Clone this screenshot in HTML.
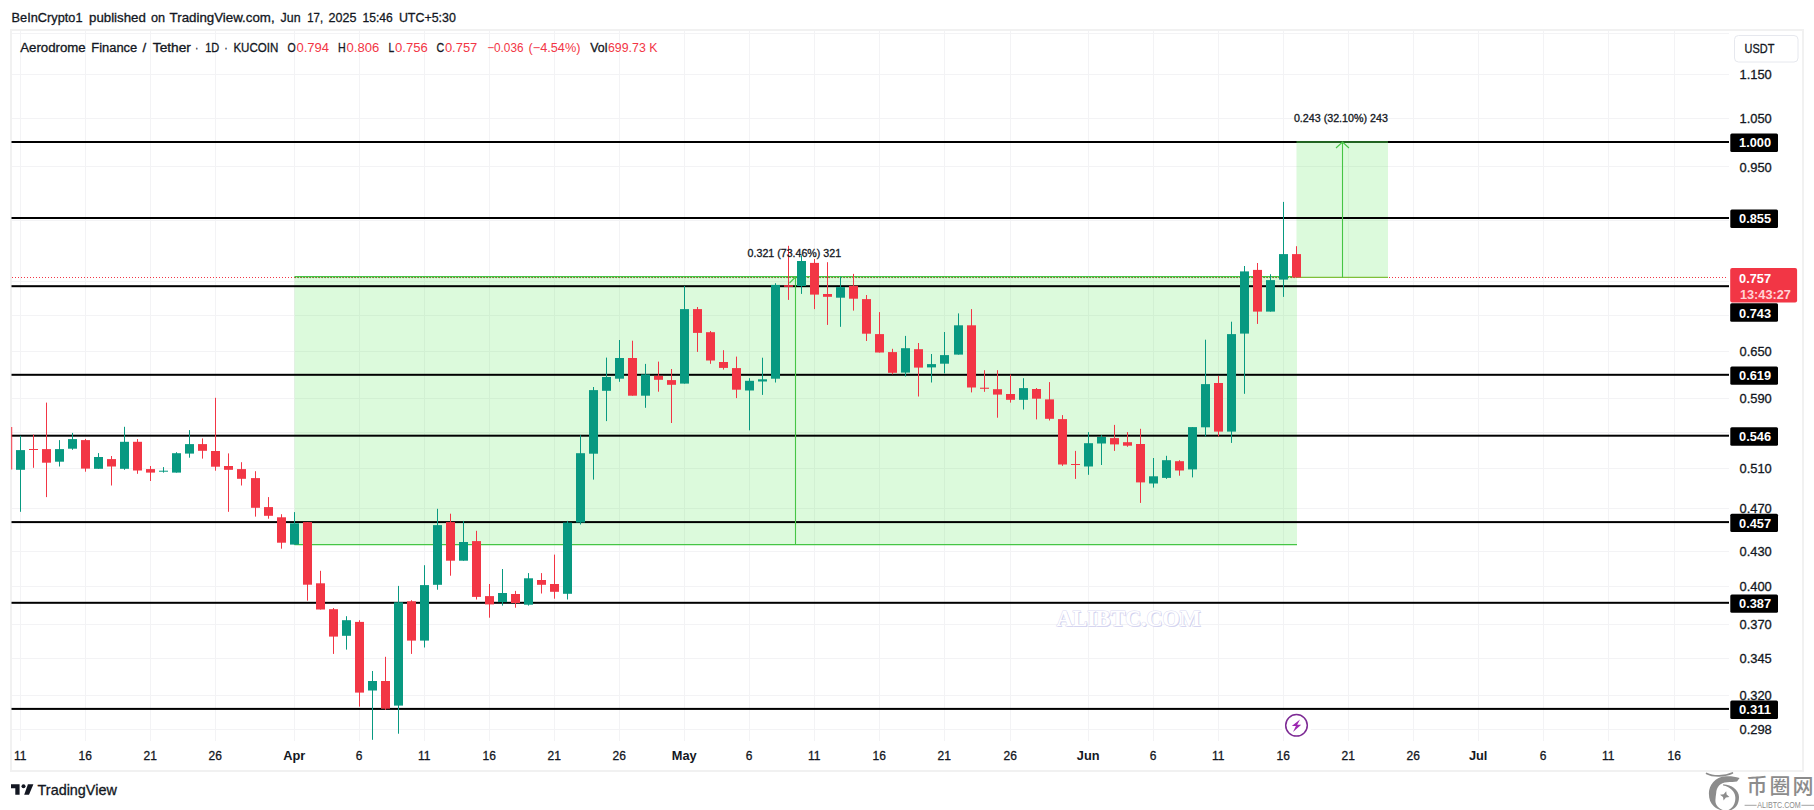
<!DOCTYPE html>
<html lang="en"><head><meta charset="utf-8"><title>AERO/USDT chart</title>
<style>html,body{margin:0;padding:0;background:#fff;overflow:hidden}body{width:1814px;height:810px}</style></head>
<body>
<svg width="1814" height="810" viewBox="0 0 1814 810" style="display:block">
<rect width="1814" height="810" fill="#ffffff"/>
<g font-family="Liberation Sans, sans-serif">
<line x1="12" x2="1729" y1="33.5" y2="33.5" stroke="#f3f3f5" stroke-width="1"/>
<line x1="12" x2="1729" y1="74.5" y2="74.5" stroke="#f3f3f5" stroke-width="1"/>
<line x1="12" x2="1729" y1="118.5" y2="118.5" stroke="#f3f3f5" stroke-width="1"/>
<line x1="12" x2="1729" y1="166.5" y2="166.5" stroke="#f3f3f5" stroke-width="1"/>
<line x1="12" x2="1729" y1="220.5" y2="220.5" stroke="#f3f3f5" stroke-width="1"/>
<line x1="12" x2="1729" y1="281.5" y2="281.5" stroke="#f3f3f5" stroke-width="1"/>
<line x1="12" x2="1729" y1="315.5" y2="315.5" stroke="#f3f3f5" stroke-width="1"/>
<line x1="12" x2="1729" y1="351.5" y2="351.5" stroke="#f3f3f5" stroke-width="1"/>
<line x1="12" x2="1729" y1="398.5" y2="398.5" stroke="#f3f3f5" stroke-width="1"/>
<line x1="12" x2="1729" y1="432.5" y2="432.5" stroke="#f3f3f5" stroke-width="1"/>
<line x1="12" x2="1729" y1="468.5" y2="468.5" stroke="#f3f3f5" stroke-width="1"/>
<line x1="12" x2="1729" y1="508.5" y2="508.5" stroke="#f3f3f5" stroke-width="1"/>
<line x1="12" x2="1729" y1="551.5" y2="551.5" stroke="#f3f3f5" stroke-width="1"/>
<line x1="12" x2="1729" y1="586.5" y2="586.5" stroke="#f3f3f5" stroke-width="1"/>
<line x1="12" x2="1729" y1="624.5" y2="624.5" stroke="#f3f3f5" stroke-width="1"/>
<line x1="12" x2="1729" y1="658.5" y2="658.5" stroke="#f3f3f5" stroke-width="1"/>
<line x1="12" x2="1729" y1="695.5" y2="695.5" stroke="#f3f3f5" stroke-width="1"/>
<line x1="12" x2="1729" y1="729.5" y2="729.5" stroke="#f3f3f5" stroke-width="1"/>
<line x1="20.5" x2="20.5" y1="31" y2="741" stroke="#f3f3f5" stroke-width="1"/>
<line x1="85.5" x2="85.5" y1="31" y2="741" stroke="#f3f3f5" stroke-width="1"/>
<line x1="150.5" x2="150.5" y1="31" y2="741" stroke="#f3f3f5" stroke-width="1"/>
<line x1="215.5" x2="215.5" y1="31" y2="741" stroke="#f3f3f5" stroke-width="1"/>
<line x1="294.5" x2="294.5" y1="31" y2="741" stroke="#f3f3f5" stroke-width="1"/>
<line x1="359.5" x2="359.5" y1="31" y2="741" stroke="#f3f3f5" stroke-width="1"/>
<line x1="424.5" x2="424.5" y1="31" y2="741" stroke="#f3f3f5" stroke-width="1"/>
<line x1="489.5" x2="489.5" y1="31" y2="741" stroke="#f3f3f5" stroke-width="1"/>
<line x1="554.5" x2="554.5" y1="31" y2="741" stroke="#f3f3f5" stroke-width="1"/>
<line x1="619.5" x2="619.5" y1="31" y2="741" stroke="#f3f3f5" stroke-width="1"/>
<line x1="684.5" x2="684.5" y1="31" y2="741" stroke="#f3f3f5" stroke-width="1"/>
<line x1="749.5" x2="749.5" y1="31" y2="741" stroke="#f3f3f5" stroke-width="1"/>
<line x1="814.5" x2="814.5" y1="31" y2="741" stroke="#f3f3f5" stroke-width="1"/>
<line x1="879.5" x2="879.5" y1="31" y2="741" stroke="#f3f3f5" stroke-width="1"/>
<line x1="944.5" x2="944.5" y1="31" y2="741" stroke="#f3f3f5" stroke-width="1"/>
<line x1="1010.5" x2="1010.5" y1="31" y2="741" stroke="#f3f3f5" stroke-width="1"/>
<line x1="1088.5" x2="1088.5" y1="31" y2="741" stroke="#f3f3f5" stroke-width="1"/>
<line x1="1153.5" x2="1153.5" y1="31" y2="741" stroke="#f3f3f5" stroke-width="1"/>
<line x1="1218.5" x2="1218.5" y1="31" y2="741" stroke="#f3f3f5" stroke-width="1"/>
<line x1="1283.5" x2="1283.5" y1="31" y2="741" stroke="#f3f3f5" stroke-width="1"/>
<line x1="1348.5" x2="1348.5" y1="31" y2="741" stroke="#f3f3f5" stroke-width="1"/>
<line x1="1413.5" x2="1413.5" y1="31" y2="741" stroke="#f3f3f5" stroke-width="1"/>
<line x1="1478.5" x2="1478.5" y1="31" y2="741" stroke="#f3f3f5" stroke-width="1"/>
<line x1="1543.5" x2="1543.5" y1="31" y2="741" stroke="#f3f3f5" stroke-width="1"/>
<line x1="1608.5" x2="1608.5" y1="31" y2="741" stroke="#f3f3f5" stroke-width="1"/>
<line x1="1674.5" x2="1674.5" y1="31" y2="741" stroke="#f3f3f5" stroke-width="1"/>
<rect x="11" y="30" width="1792" height="741" fill="none" stroke="#f1f1f1" stroke-width="2"/>
<line x1="12" x2="1728" y1="277.5" y2="277.5" stroke="#F23645" stroke-width="1" stroke-dasharray="1 2"/>
<rect x="294.5" y="276.2" width="1002.5" height="268.40000000000003" fill="rgba(60,225,60,0.18)"/>
<rect x="1296.5" y="142" width="91.5" height="135.5" fill="rgba(60,225,60,0.18)"/>
<rect x="11.5" y="141.0" width="1717.5" height="2" fill="#000"/>
<rect x="11.5" y="217.0" width="1717.5" height="2" fill="#000"/>
<rect x="11.5" y="285.2" width="1717.5" height="2" fill="#000"/>
<rect x="11.5" y="373.8" width="1717.5" height="2" fill="#000"/>
<rect x="11.5" y="434.7" width="1717.5" height="2" fill="#000"/>
<rect x="11.5" y="521.1" width="1717.5" height="2" fill="#000"/>
<rect x="11.5" y="601.8" width="1717.5" height="2" fill="#000"/>
<rect x="11.5" y="707.9" width="1717.5" height="2" fill="#000"/>
<line x1="294.5" x2="1297" y1="276.6" y2="276.6" stroke="#45c545" stroke-width="1.1"/>
<line x1="295.0" x2="1297" y1="277.6" y2="277.6" stroke="#4f8f2a" stroke-width="1" stroke-dasharray="1 2"/>
<line x1="294.5" x2="1297" y1="544.6" y2="544.6" stroke="#45c545" stroke-width="1.1"/>
<line x1="795.5" x2="795.5" y1="276.2" y2="544.6" stroke="#45c545" stroke-width="1.1"/>
<path d="M789.5 283 L795.5 277 " stroke="#45c545" stroke-width="1.1" fill="none"/>
<line x1="1296.5" x2="1388" y1="277.4" y2="277.4" stroke="#7fbf3a" stroke-width="1.1"/>
<line x1="1296.5" x2="1388" y1="142" y2="142" stroke="#45c545" stroke-width="1"/>
<line x1="1342.5" x2="1342.5" y1="142" y2="277.5" stroke="#45c545" stroke-width="1.1"/>
<path d="M1336 148 L1342.5 142 L1349 148" stroke="#45c545" stroke-width="1.1" fill="none"/>
<rect x="11.2" y="427" width="1" height="42.5" fill="#F23645"/>
<rect x="20" y="435.8" width="1" height="76.0" fill="#089981"/>
<rect x="16" y="450.1" width="9" height="19.7" fill="#089981"/>
<rect x="33" y="434.6" width="1" height="33.2" fill="#F23645"/>
<rect x="29" y="449.0" width="9" height="1.0" fill="#F23645"/>
<rect x="46" y="402.6" width="1" height="94.5" fill="#F23645"/>
<rect x="42" y="449.1" width="9" height="13.6" fill="#F23645"/>
<rect x="59" y="440.1" width="1" height="26.4" fill="#089981"/>
<rect x="55" y="449.1" width="9" height="12.6" fill="#089981"/>
<rect x="72" y="432.9" width="1" height="16.9" fill="#089981"/>
<rect x="68" y="439.1" width="9" height="9.6" fill="#089981"/>
<rect x="85" y="438.9" width="1" height="32.8" fill="#F23645"/>
<rect x="81" y="440.1" width="9" height="28.5" fill="#F23645"/>
<rect x="98" y="453.1" width="1" height="15.7" fill="#089981"/>
<rect x="94" y="457.0" width="9" height="11.8" fill="#089981"/>
<rect x="111" y="456.0" width="1" height="29.5" fill="#F23645"/>
<rect x="107" y="459.1" width="9" height="7.4" fill="#F23645"/>
<rect x="124" y="426.8" width="1" height="43.0" fill="#089981"/>
<rect x="120" y="441.8" width="9" height="27.0" fill="#089981"/>
<rect x="137" y="439.1" width="1" height="34.7" fill="#F23645"/>
<rect x="133" y="441.8" width="9" height="28.7" fill="#F23645"/>
<rect x="150" y="466.0" width="1" height="15.0" fill="#F23645"/>
<rect x="146" y="469.1" width="9" height="3.5" fill="#F23645"/>
<rect x="163" y="467.1" width="1" height="5.5" fill="#089981"/>
<rect x="159" y="470.7" width="9" height="1.0" fill="#089981"/>
<rect x="176" y="452.2" width="1" height="20.4" fill="#089981"/>
<rect x="172" y="453.2" width="9" height="19.4" fill="#089981"/>
<rect x="189" y="430.1" width="1" height="27.6" fill="#089981"/>
<rect x="185" y="444.1" width="9" height="9.5" fill="#089981"/>
<rect x="202" y="438.4" width="1" height="20.2" fill="#F23645"/>
<rect x="198" y="444.1" width="9" height="6.7" fill="#F23645"/>
<rect x="215" y="397.8" width="1" height="72.9" fill="#F23645"/>
<rect x="211" y="451.0" width="9" height="15.7" fill="#F23645"/>
<rect x="228" y="453.4" width="1" height="58.4" fill="#F23645"/>
<rect x="224" y="466.0" width="9" height="3.8" fill="#F23645"/>
<rect x="241" y="462.2" width="1" height="23.3" fill="#F23645"/>
<rect x="237" y="469.1" width="9" height="9.7" fill="#F23645"/>
<rect x="255" y="471.2" width="1" height="45.4" fill="#F23645"/>
<rect x="251" y="478.1" width="9" height="29.7" fill="#F23645"/>
<rect x="268" y="497.1" width="1" height="21.6" fill="#F23645"/>
<rect x="264" y="507.1" width="9" height="8.7" fill="#F23645"/>
<rect x="281" y="514.2" width="1" height="34.5" fill="#F23645"/>
<rect x="277" y="517.3" width="9" height="25.4" fill="#F23645"/>
<rect x="294" y="512.1" width="1" height="32.5" fill="#089981"/>
<rect x="290" y="523.3" width="9" height="21.3" fill="#089981"/>
<rect x="307" y="522.1" width="1" height="78.6" fill="#F23645"/>
<rect x="303" y="522.1" width="9" height="62.6" fill="#F23645"/>
<rect x="320" y="570.8" width="1" height="38.7" fill="#F23645"/>
<rect x="316" y="583.3" width="9" height="26.2" fill="#F23645"/>
<rect x="333" y="608.0" width="1" height="45.9" fill="#F23645"/>
<rect x="329" y="609.2" width="9" height="27.4" fill="#F23645"/>
<rect x="346" y="616.2" width="1" height="33.4" fill="#089981"/>
<rect x="342" y="620.2" width="9" height="15.6" fill="#089981"/>
<rect x="359" y="620.2" width="1" height="86.4" fill="#F23645"/>
<rect x="355" y="621.9" width="9" height="70.7" fill="#F23645"/>
<rect x="372" y="671.0" width="1" height="68.8" fill="#089981"/>
<rect x="368" y="681.0" width="9" height="9.5" fill="#089981"/>
<rect x="385" y="656.8" width="1" height="53.2" fill="#F23645"/>
<rect x="381" y="681.0" width="9" height="27.7" fill="#F23645"/>
<rect x="398" y="585.9" width="1" height="147.8" fill="#089981"/>
<rect x="394" y="602.3" width="9" height="103.3" fill="#089981"/>
<rect x="411" y="600.2" width="1" height="53.7" fill="#F23645"/>
<rect x="407" y="601.3" width="9" height="39.3" fill="#F23645"/>
<rect x="424" y="565.2" width="1" height="82.3" fill="#089981"/>
<rect x="420" y="585.1" width="9" height="55.5" fill="#089981"/>
<rect x="437" y="508.8" width="1" height="80.9" fill="#089981"/>
<rect x="433" y="525.1" width="9" height="59.7" fill="#089981"/>
<rect x="450" y="513.7" width="1" height="62.0" fill="#F23645"/>
<rect x="446" y="522.1" width="9" height="38.6" fill="#F23645"/>
<rect x="463" y="520.9" width="1" height="39.8" fill="#089981"/>
<rect x="459" y="542.0" width="9" height="18.7" fill="#089981"/>
<rect x="476" y="530.8" width="1" height="68.7" fill="#F23645"/>
<rect x="472" y="541.1" width="9" height="55.8" fill="#F23645"/>
<rect x="489" y="584.0" width="1" height="33.7" fill="#F23645"/>
<rect x="485" y="596.1" width="9" height="8.3" fill="#F23645"/>
<rect x="502" y="569.0" width="1" height="36.6" fill="#089981"/>
<rect x="498" y="593.0" width="9" height="9.1" fill="#089981"/>
<rect x="515" y="590.9" width="1" height="16.8" fill="#F23645"/>
<rect x="511" y="594.0" width="9" height="9.0" fill="#F23645"/>
<rect x="528" y="573.1" width="1" height="32.5" fill="#089981"/>
<rect x="524" y="578.3" width="9" height="26.4" fill="#089981"/>
<rect x="541" y="573.1" width="1" height="20.4" fill="#F23645"/>
<rect x="537" y="580.0" width="9" height="4.8" fill="#F23645"/>
<rect x="554" y="554.6" width="1" height="44.1" fill="#F23645"/>
<rect x="550" y="584.0" width="9" height="7.8" fill="#F23645"/>
<rect x="567" y="520.9" width="1" height="78.6" fill="#089981"/>
<rect x="563" y="522.6" width="9" height="71.2" fill="#089981"/>
<rect x="580" y="435.2" width="1" height="89.3" fill="#089981"/>
<rect x="576" y="453.2" width="9" height="69.3" fill="#089981"/>
<rect x="593" y="387.0" width="1" height="92.6" fill="#089981"/>
<rect x="589" y="390.1" width="9" height="63.6" fill="#089981"/>
<rect x="606" y="357.6" width="1" height="63.5" fill="#089981"/>
<rect x="602" y="377.0" width="9" height="13.8" fill="#089981"/>
<rect x="619" y="340.0" width="1" height="41.8" fill="#089981"/>
<rect x="615" y="358.0" width="9" height="20.7" fill="#089981"/>
<rect x="632" y="340.7" width="1" height="55.0" fill="#F23645"/>
<rect x="628" y="358.0" width="9" height="37.7" fill="#F23645"/>
<rect x="645" y="363.9" width="1" height="43.9" fill="#089981"/>
<rect x="641" y="374.4" width="9" height="21.3" fill="#089981"/>
<rect x="658" y="361.6" width="1" height="30.1" fill="#F23645"/>
<rect x="654" y="375.8" width="9" height="4.0" fill="#F23645"/>
<rect x="671" y="369.0" width="1" height="54.0" fill="#F23645"/>
<rect x="667" y="380.1" width="9" height="4.7" fill="#F23645"/>
<rect x="684" y="286.0" width="1" height="97.6" fill="#089981"/>
<rect x="680" y="309.1" width="9" height="74.5" fill="#089981"/>
<rect x="697" y="307.0" width="1" height="44.9" fill="#F23645"/>
<rect x="693" y="309.1" width="9" height="23.8" fill="#F23645"/>
<rect x="710" y="331.0" width="1" height="32.8" fill="#F23645"/>
<rect x="706" y="332.2" width="9" height="28.3" fill="#F23645"/>
<rect x="723" y="350.2" width="1" height="19.4" fill="#F23645"/>
<rect x="719" y="362.0" width="9" height="5.9" fill="#F23645"/>
<rect x="736" y="356.6" width="1" height="41.5" fill="#F23645"/>
<rect x="732" y="368.1" width="9" height="21.6" fill="#F23645"/>
<rect x="749" y="378.2" width="1" height="52.1" fill="#089981"/>
<rect x="745" y="380.8" width="9" height="9.7" fill="#089981"/>
<rect x="762" y="357.7" width="1" height="37.2" fill="#089981"/>
<rect x="758" y="379.3" width="9" height="2.2" fill="#089981"/>
<rect x="775" y="283.2" width="1" height="99.3" fill="#089981"/>
<rect x="771" y="284.9" width="9" height="93.8" fill="#089981"/>
<rect x="788" y="245.8" width="1" height="54.1" fill="#F23645"/>
<rect x="784" y="285.2" width="9" height="1.6" fill="#F23645"/>
<rect x="801" y="255.4" width="1" height="38.5" fill="#089981"/>
<rect x="797" y="261.0" width="9" height="25.0" fill="#089981"/>
<rect x="814" y="259.0" width="1" height="50.1" fill="#F23645"/>
<rect x="810" y="262.9" width="9" height="31.7" fill="#F23645"/>
<rect x="827" y="262.2" width="1" height="62.7" fill="#F23645"/>
<rect x="823" y="294.0" width="9" height="2.8" fill="#F23645"/>
<rect x="840" y="276.7" width="1" height="50.1" fill="#089981"/>
<rect x="836" y="287.1" width="9" height="10.6" fill="#089981"/>
<rect x="853" y="273.9" width="1" height="36.7" fill="#F23645"/>
<rect x="849" y="285.8" width="9" height="12.9" fill="#F23645"/>
<rect x="866" y="295.0" width="1" height="46.0" fill="#F23645"/>
<rect x="862" y="299.1" width="9" height="34.6" fill="#F23645"/>
<rect x="879" y="312.1" width="1" height="40.4" fill="#F23645"/>
<rect x="875" y="334.1" width="9" height="18.4" fill="#F23645"/>
<rect x="892" y="348.8" width="1" height="25.5" fill="#F23645"/>
<rect x="888" y="352.1" width="9" height="20.7" fill="#F23645"/>
<rect x="905" y="335.9" width="1" height="40.6" fill="#089981"/>
<rect x="901" y="348.2" width="9" height="24.4" fill="#089981"/>
<rect x="918" y="343.0" width="1" height="53.5" fill="#F23645"/>
<rect x="914" y="349.2" width="9" height="18.4" fill="#F23645"/>
<rect x="931" y="354.0" width="1" height="28.5" fill="#089981"/>
<rect x="927" y="364.1" width="9" height="3.3" fill="#089981"/>
<rect x="944" y="332.0" width="1" height="41.4" fill="#089981"/>
<rect x="940" y="355.1" width="9" height="8.6" fill="#089981"/>
<rect x="958" y="313.4" width="1" height="41.2" fill="#089981"/>
<rect x="954" y="325.3" width="9" height="29.3" fill="#089981"/>
<rect x="971" y="309.1" width="1" height="83.3" fill="#F23645"/>
<rect x="967" y="325.3" width="9" height="62.2" fill="#F23645"/>
<rect x="984" y="370.2" width="1" height="21.6" fill="#F23645"/>
<rect x="980" y="387.7" width="9" height="1.1" fill="#F23645"/>
<rect x="997" y="370.2" width="1" height="47.5" fill="#F23645"/>
<rect x="993" y="389.2" width="9" height="5.4" fill="#F23645"/>
<rect x="1010" y="374.5" width="1" height="28.1" fill="#F23645"/>
<rect x="1006" y="394.0" width="9" height="5.8" fill="#F23645"/>
<rect x="1023" y="378.2" width="1" height="31.3" fill="#089981"/>
<rect x="1019" y="388.1" width="9" height="11.7" fill="#089981"/>
<rect x="1036" y="388.0" width="1" height="31.4" fill="#F23645"/>
<rect x="1032" y="389.0" width="9" height="9.7" fill="#F23645"/>
<rect x="1049" y="382.1" width="1" height="38.4" fill="#F23645"/>
<rect x="1045" y="399.4" width="9" height="19.4" fill="#F23645"/>
<rect x="1062" y="415.1" width="1" height="50.8" fill="#F23645"/>
<rect x="1058" y="419.1" width="9" height="45.4" fill="#F23645"/>
<rect x="1075" y="450.9" width="1" height="28.0" fill="#F23645"/>
<rect x="1071" y="464.0" width="9" height="1.0" fill="#F23645"/>
<rect x="1088" y="432.1" width="1" height="42.7" fill="#089981"/>
<rect x="1084" y="443.2" width="9" height="23.3" fill="#089981"/>
<rect x="1101" y="435.2" width="1" height="29.8" fill="#089981"/>
<rect x="1097" y="437.0" width="9" height="6.5" fill="#089981"/>
<rect x="1114" y="424.9" width="1" height="26.0" fill="#F23645"/>
<rect x="1110" y="438.1" width="9" height="6.3" fill="#F23645"/>
<rect x="1127" y="432.1" width="1" height="14.7" fill="#F23645"/>
<rect x="1123" y="442.2" width="9" height="3.5" fill="#F23645"/>
<rect x="1140" y="428.8" width="1" height="74.1" fill="#F23645"/>
<rect x="1136" y="444.0" width="9" height="38.4" fill="#F23645"/>
<rect x="1153" y="458.0" width="1" height="29.6" fill="#089981"/>
<rect x="1149" y="476.3" width="9" height="7.2" fill="#089981"/>
<rect x="1166" y="455.8" width="1" height="23.1" fill="#089981"/>
<rect x="1162" y="460.2" width="9" height="17.7" fill="#089981"/>
<rect x="1179" y="460.2" width="1" height="15.5" fill="#F23645"/>
<rect x="1175" y="461.2" width="9" height="9.3" fill="#F23645"/>
<rect x="1192" y="427.1" width="1" height="50.3" fill="#089981"/>
<rect x="1188" y="427.1" width="9" height="42.3" fill="#089981"/>
<rect x="1205" y="339.7" width="1" height="96.7" fill="#089981"/>
<rect x="1201" y="384.1" width="9" height="43.2" fill="#089981"/>
<rect x="1218" y="375.9" width="1" height="60.5" fill="#F23645"/>
<rect x="1214" y="383.0" width="9" height="48.6" fill="#F23645"/>
<rect x="1231" y="321.7" width="1" height="121.2" fill="#089981"/>
<rect x="1227" y="334.1" width="9" height="97.5" fill="#089981"/>
<rect x="1244" y="266.0" width="1" height="127.8" fill="#089981"/>
<rect x="1240" y="271.4" width="9" height="62.2" fill="#089981"/>
<rect x="1257" y="263.0" width="1" height="60.9" fill="#F23645"/>
<rect x="1253" y="269.9" width="9" height="41.7" fill="#F23645"/>
<rect x="1270" y="274.2" width="1" height="37.4" fill="#089981"/>
<rect x="1266" y="280.1" width="9" height="31.5" fill="#089981"/>
<rect x="1283" y="201.9" width="1" height="95.0" fill="#089981"/>
<rect x="1279" y="254.1" width="9" height="25.5" fill="#089981"/>
<rect x="1296" y="246.2" width="1" height="31.3" fill="#F23645"/>
<rect x="1292" y="254.1" width="9" height="23.4" fill="#F23645"/>
<text x="747.6" y="256.6" font-size="10.5" fill="#131722" textLength="93.5" lengthAdjust="spacingAndGlyphs" stroke="#131722" stroke-width="0.3">0.321 (73.46%) 321</text>
<text x="1293.9" y="121.8" font-size="10.5" fill="#131722" textLength="94.0" lengthAdjust="spacingAndGlyphs" stroke="#131722" stroke-width="0.3">0.243 (32.10%) 243</text>
<text x="1057.5" y="627.0" font-size="22.5" fill="#cfcfee" font-weight="bold" textLength="144.0" lengthAdjust="spacingAndGlyphs" font-family="Liberation Serif, serif" >ALIBTC.COM</text>
<text x="1056.5" y="626.0" font-size="22.5" fill="#ffffff" font-weight="bold" textLength="144.0" lengthAdjust="spacingAndGlyphs" font-family="Liberation Serif, serif" stroke="#dadaf2" stroke-width="1" paint-order="stroke">ALIBTC.COM</text>
<circle cx="1296.5" cy="725.3" r="15" fill="#fff"/>
<circle cx="1296.5" cy="725.3" r="10.8" fill="#fff" stroke="#7d2b94" stroke-width="1.5"/>
<path d="M1300 719.4 L1291.8 726 L1295.9 726 L1293 731.9 L1301.2 724.8 L1297.2 724.8 Z" fill="#9c27b0"/>
<rect x="1729" y="31" width="73" height="739" fill="#fff"/>
<text x="1739.5" y="78.8" font-size="12.8" fill="#131722" textLength="32.3" lengthAdjust="spacingAndGlyphs" stroke="#131722" stroke-width="0.3">1.150</text>
<text x="1739.5" y="122.9" font-size="12.8" fill="#131722" textLength="32.3" lengthAdjust="spacingAndGlyphs" stroke="#131722" stroke-width="0.3">1.050</text>
<text x="1739.5" y="171.5" font-size="12.8" fill="#131722" textLength="32.3" lengthAdjust="spacingAndGlyphs" stroke="#131722" stroke-width="0.3">0.950</text>
<text x="1739.5" y="355.7" font-size="12.8" fill="#131722" textLength="32.3" lengthAdjust="spacingAndGlyphs" stroke="#131722" stroke-width="0.3">0.650</text>
<text x="1739.5" y="402.7" font-size="12.8" fill="#131722" textLength="32.3" lengthAdjust="spacingAndGlyphs" stroke="#131722" stroke-width="0.3">0.590</text>
<text x="1739.5" y="473.4" font-size="12.8" fill="#131722" textLength="32.3" lengthAdjust="spacingAndGlyphs" stroke="#131722" stroke-width="0.3">0.510</text>
<text x="1739.5" y="513.1" font-size="12.8" fill="#131722" textLength="32.3" lengthAdjust="spacingAndGlyphs" stroke="#131722" stroke-width="0.3">0.470</text>
<text x="1739.5" y="556.3" font-size="12.8" fill="#131722" textLength="32.3" lengthAdjust="spacingAndGlyphs" stroke="#131722" stroke-width="0.3">0.430</text>
<text x="1739.5" y="591.4" font-size="12.8" fill="#131722" textLength="32.3" lengthAdjust="spacingAndGlyphs" stroke="#131722" stroke-width="0.3">0.400</text>
<text x="1739.5" y="629.2" font-size="12.8" fill="#131722" textLength="32.3" lengthAdjust="spacingAndGlyphs" stroke="#131722" stroke-width="0.3">0.370</text>
<text x="1739.5" y="663.2" font-size="12.8" fill="#131722" textLength="32.3" lengthAdjust="spacingAndGlyphs" stroke="#131722" stroke-width="0.3">0.345</text>
<text x="1739.5" y="699.7" font-size="12.8" fill="#131722" textLength="32.3" lengthAdjust="spacingAndGlyphs" stroke="#131722" stroke-width="0.3">0.320</text>
<text x="1739.5" y="734.3" font-size="12.8" fill="#131722" textLength="32.3" lengthAdjust="spacingAndGlyphs" stroke="#131722" stroke-width="0.3">0.298</text>
<rect x="1730.3" y="133.6" width="47.7" height="18.4" rx="1.5" fill="#000"/>
<text x="1739.1" y="147.4" font-size="12.5" fill="#ffffff" font-weight="bold" textLength="32.0" lengthAdjust="spacingAndGlyphs" >1.000</text>
<rect x="1730.3" y="209.6" width="47.7" height="18.4" rx="1.5" fill="#000"/>
<text x="1739.1" y="223.4" font-size="12.5" fill="#ffffff" font-weight="bold" textLength="32.0" lengthAdjust="spacingAndGlyphs" >0.855</text>
<rect x="1730.3" y="366.4" width="47.7" height="18.4" rx="1.5" fill="#000"/>
<text x="1739.1" y="380.2" font-size="12.5" fill="#ffffff" font-weight="bold" textLength="32.0" lengthAdjust="spacingAndGlyphs" >0.619</text>
<rect x="1730.3" y="427.3" width="47.7" height="18.4" rx="1.5" fill="#000"/>
<text x="1739.1" y="441.1" font-size="12.5" fill="#ffffff" font-weight="bold" textLength="32.0" lengthAdjust="spacingAndGlyphs" >0.546</text>
<rect x="1730.3" y="513.7" width="47.7" height="18.4" rx="1.5" fill="#000"/>
<text x="1739.1" y="527.5" font-size="12.5" fill="#ffffff" font-weight="bold" textLength="32.0" lengthAdjust="spacingAndGlyphs" >0.457</text>
<rect x="1730.3" y="594.4" width="47.7" height="18.4" rx="1.5" fill="#000"/>
<text x="1739.1" y="608.2" font-size="12.5" fill="#ffffff" font-weight="bold" textLength="32.0" lengthAdjust="spacingAndGlyphs" >0.387</text>
<rect x="1730.3" y="700.5" width="47.7" height="18.4" rx="1.5" fill="#000"/>
<text x="1739.1" y="714.3" font-size="12.5" fill="#ffffff" font-weight="bold" textLength="32.0" lengthAdjust="spacingAndGlyphs" >0.311</text>
<rect x="1730.2" y="268" width="66.9" height="34.6" rx="2" fill="#F23645"/>
<text x="1739.1" y="282.9" font-size="12.5" fill="#ffffff" font-weight="bold" textLength="32.0" lengthAdjust="spacingAndGlyphs" >0.757</text>
<text x="1739.9" y="298.5" font-size="12.5" fill="#ffd2d6" font-weight="bold" textLength="51.0" lengthAdjust="spacingAndGlyphs" >13:43:27</text>
<rect x="1730.2" y="303.2" width="47.8" height="18.6" rx="1.5" fill="#000"/>
<text x="1739.1" y="317.9" font-size="12.5" fill="#ffffff" font-weight="bold" textLength="32.0" lengthAdjust="spacingAndGlyphs" >0.743</text>
<rect x="1734.5" y="35.5" width="63.5" height="26.5" rx="4" fill="#fff" stroke="#e6e8ee" stroke-width="1"/>
<text x="1744.6" y="53.2" font-size="12" fill="#131722" textLength="29.7" lengthAdjust="spacingAndGlyphs" stroke="#131722" stroke-width="0.3">USDT</text>
<text x="20.2" y="760.0" font-size="12" fill="#131722" text-anchor="middle" stroke="#131722" stroke-width="0.3">11</text>
<text x="85.2" y="760.0" font-size="12" fill="#131722" text-anchor="middle" stroke="#131722" stroke-width="0.3">16</text>
<text x="150.2" y="760.0" font-size="12" fill="#131722" text-anchor="middle" stroke="#131722" stroke-width="0.3">21</text>
<text x="215.2" y="760.0" font-size="12" fill="#131722" text-anchor="middle" stroke="#131722" stroke-width="0.3">26</text>
<text x="294.2" y="760.0" font-size="12.8" fill="#131722" font-weight="bold" text-anchor="middle" >Apr</text>
<text x="359.2" y="760.0" font-size="12" fill="#131722" text-anchor="middle" stroke="#131722" stroke-width="0.3">6</text>
<text x="424.2" y="760.0" font-size="12" fill="#131722" text-anchor="middle" stroke="#131722" stroke-width="0.3">11</text>
<text x="489.2" y="760.0" font-size="12" fill="#131722" text-anchor="middle" stroke="#131722" stroke-width="0.3">16</text>
<text x="554.2" y="760.0" font-size="12" fill="#131722" text-anchor="middle" stroke="#131722" stroke-width="0.3">21</text>
<text x="619.2" y="760.0" font-size="12" fill="#131722" text-anchor="middle" stroke="#131722" stroke-width="0.3">26</text>
<text x="684.2" y="760.0" font-size="12.8" fill="#131722" font-weight="bold" text-anchor="middle" >May</text>
<text x="749.2" y="760.0" font-size="12" fill="#131722" text-anchor="middle" stroke="#131722" stroke-width="0.3">6</text>
<text x="814.2" y="760.0" font-size="12" fill="#131722" text-anchor="middle" stroke="#131722" stroke-width="0.3">11</text>
<text x="879.2" y="760.0" font-size="12" fill="#131722" text-anchor="middle" stroke="#131722" stroke-width="0.3">16</text>
<text x="944.2" y="760.0" font-size="12" fill="#131722" text-anchor="middle" stroke="#131722" stroke-width="0.3">21</text>
<text x="1010.2" y="760.0" font-size="12" fill="#131722" text-anchor="middle" stroke="#131722" stroke-width="0.3">26</text>
<text x="1088.2" y="760.0" font-size="12.8" fill="#131722" font-weight="bold" text-anchor="middle" >Jun</text>
<text x="1153.2" y="760.0" font-size="12" fill="#131722" text-anchor="middle" stroke="#131722" stroke-width="0.3">6</text>
<text x="1218.2" y="760.0" font-size="12" fill="#131722" text-anchor="middle" stroke="#131722" stroke-width="0.3">11</text>
<text x="1283.2" y="760.0" font-size="12" fill="#131722" text-anchor="middle" stroke="#131722" stroke-width="0.3">16</text>
<text x="1348.2" y="760.0" font-size="12" fill="#131722" text-anchor="middle" stroke="#131722" stroke-width="0.3">21</text>
<text x="1413.2" y="760.0" font-size="12" fill="#131722" text-anchor="middle" stroke="#131722" stroke-width="0.3">26</text>
<text x="1478.2" y="760.0" font-size="12.8" fill="#131722" font-weight="bold" text-anchor="middle" >Jul</text>
<text x="1543.2" y="760.0" font-size="12" fill="#131722" text-anchor="middle" stroke="#131722" stroke-width="0.3">6</text>
<text x="1608.2" y="760.0" font-size="12" fill="#131722" text-anchor="middle" stroke="#131722" stroke-width="0.3">11</text>
<text x="1674.2" y="760.0" font-size="12" fill="#131722" text-anchor="middle" stroke="#131722" stroke-width="0.3">16</text>
<text y="21.5" font-size="13" stroke-width="0.3"><tspan x="11.6" textLength="70.9" lengthAdjust="spacingAndGlyphs" fill="#131722" stroke="#131722">BeInCrypto1</tspan> <tspan x="89.0" textLength="56.8" lengthAdjust="spacingAndGlyphs" fill="#131722" stroke="#131722">published</tspan> <tspan x="150.9" textLength="14.1" lengthAdjust="spacingAndGlyphs" fill="#131722" stroke="#131722">on</tspan> <tspan x="169.6" textLength="105.0" lengthAdjust="spacingAndGlyphs" fill="#131722" stroke="#131722">TradingView.com,</tspan> <tspan x="280.6" textLength="20.0" lengthAdjust="spacingAndGlyphs" fill="#131722" stroke="#131722">Jun</tspan> <tspan x="307.3" textLength="15.8" lengthAdjust="spacingAndGlyphs" fill="#131722" stroke="#131722">17,</tspan> <tspan x="328.5" textLength="27.9" lengthAdjust="spacingAndGlyphs" fill="#131722" stroke="#131722">2025</tspan> <tspan x="362.5" textLength="30.3" lengthAdjust="spacingAndGlyphs" fill="#131722" stroke="#131722">15:46</tspan> <tspan x="398.9" textLength="57.0" lengthAdjust="spacingAndGlyphs" fill="#131722" stroke="#131722">UTC+5:30</tspan></text>
<text y="51.7" font-size="12.3" stroke-width="0.3"><tspan x="20.2" textLength="65.5" lengthAdjust="spacingAndGlyphs" fill="#131722" stroke="#131722">Aerodrome</tspan> <tspan x="91.3" textLength="45.9" lengthAdjust="spacingAndGlyphs" fill="#131722" stroke="#131722">Finance</tspan> <tspan x="142.5" textLength="3.7" lengthAdjust="spacingAndGlyphs" fill="#131722" stroke="#131722">/</tspan> <tspan x="152.8" textLength="38.0" lengthAdjust="spacingAndGlyphs" fill="#131722" stroke="#131722">Tether</tspan> <tspan x="195.3" textLength="3.0" lengthAdjust="spacingAndGlyphs" fill="#131722" stroke="#131722">·</tspan> <tspan x="205.2" textLength="14.1" lengthAdjust="spacingAndGlyphs" fill="#131722" stroke="#131722">1D</tspan> <tspan x="224.4" textLength="3.0" lengthAdjust="spacingAndGlyphs" fill="#131722" stroke="#131722">·</tspan> <tspan x="233.4" textLength="45.0" lengthAdjust="spacingAndGlyphs" fill="#131722" stroke="#131722">KUCOIN</tspan> <tspan x="287.6" textLength="8.2" lengthAdjust="spacingAndGlyphs" fill="#131722" stroke="#131722">O</tspan> <tspan x="296.5" textLength="32.6" lengthAdjust="spacingAndGlyphs" fill="#F23645" stroke="none">0.794</tspan> <tspan x="337.9" textLength="7.7" lengthAdjust="spacingAndGlyphs" fill="#131722" stroke="#131722">H</tspan> <tspan x="346.5" textLength="32.7" lengthAdjust="spacingAndGlyphs" fill="#F23645" stroke="none">0.806</tspan> <tspan x="388.6" textLength="5.3" lengthAdjust="spacingAndGlyphs" fill="#131722" stroke="#131722">L</tspan> <tspan x="395.0" textLength="32.7" lengthAdjust="spacingAndGlyphs" fill="#F23645" stroke="none">0.756</tspan> <tspan x="436.5" textLength="7.7" lengthAdjust="spacingAndGlyphs" fill="#131722" stroke="#131722">C</tspan> <tspan x="444.9" textLength="32.4" lengthAdjust="spacingAndGlyphs" fill="#F23645" stroke="none">0.757</tspan> <tspan x="487.2" textLength="36.3" lengthAdjust="spacingAndGlyphs" fill="#F23645" stroke="none">−0.036</tspan> <tspan x="528.5" textLength="52.0" lengthAdjust="spacingAndGlyphs" fill="#F23645" stroke="none">(−4.54%)</tspan> <tspan x="590.2" textLength="17.2" lengthAdjust="spacingAndGlyphs" fill="#131722" stroke="#131722">Vol</tspan> <tspan x="608.0" textLength="49.4" lengthAdjust="spacingAndGlyphs" fill="#F23645" stroke="none">699.73 K</tspan></text>
<path d="M11 784.3 H19.6 V794.8 H15.3 V788.3 H11 Z" fill="#131722"/>
<circle cx="23.5" cy="786.3" r="2" fill="#131722"/>
<path d="M27.9 784.3 H33.4 L29 794.8 H24.2 Z" fill="#131722"/>
<text x="37.6" y="794.8" font-size="14.2" fill="#131722" textLength="79.2" lengthAdjust="spacingAndGlyphs" stroke="#131722" stroke-width="0.3">TradingView</text>
</g>
<path d="M1706.6 773.4 C1713 776.8 1725 776.6 1732.4 773" stroke="#8c8c8c" stroke-width="1.7" fill="none" stroke-linecap="round"/>
<path d="M1739.6 777.9 C1735 776.5 1731 776 1725.8 776.2 C1715 777 1709 785 1708.9 793.1 C1708.8 799 1710.5 803.5 1713.8 806.3 C1716 808.3 1719 809.6 1721.8 810.5 L1724 810.5 C1720 809 1718 807.5 1716.5 805 C1714.5 801.5 1715.8 797 1716.2 793.1 C1716.5 787 1720 782.6 1727.1 782.2 C1731 782 1734 782 1737 781.6 Z" fill="#8c8c8c"/>
<path d="M1723.1 784.3 C1728 784.5 1731.5 786 1733.7 787.8 C1737 790.5 1739 793.5 1739 797 C1739 801 1738 804 1736.3 806.3 C1734.5 808.5 1732.5 809.6 1730 810.5 L1727.5 810.5 C1730.5 809 1732.5 807.3 1733.7 805 C1735 802.5 1735.5 800 1735.3 797 C1735 794 1733.8 791.8 1731.7 789.8 C1729.5 787.6 1726.5 786 1723.1 785.5 Z" fill="#8c8c8c"/>
<path d="M1726.2 791.2 L1726.6 794.6 L1729.4 796.9 L1725.9 797.5 L1723.6 800.6 L1723 796.9 L1720 794.8 L1723.7 794.2 Z" fill="#8c8c8c"/>
<text x="1746.5" y="793.2" font-size="21" font-weight="500" fill="#8c8c8c" font-family="Liberation Sans, Noto Sans CJK SC, sans-serif" textLength="67" lengthAdjust="spacing">币圈网</text>
<text x="1757.2" y="807.6" font-size="8.8" fill="#8c8c8c" font-family="Liberation Sans, sans-serif" textLength="43.6" lengthAdjust="spacingAndGlyphs">ALIBTC.COM</text>
<line x1="1744.6" x2="1756.6" y1="805.3" y2="805.3" stroke="#8c8c8c" stroke-width="0.8"/>
<line x1="1801.4" x2="1814" y1="805.3" y2="805.3" stroke="#8c8c8c" stroke-width="0.8"/>
</svg>
</body></html>
